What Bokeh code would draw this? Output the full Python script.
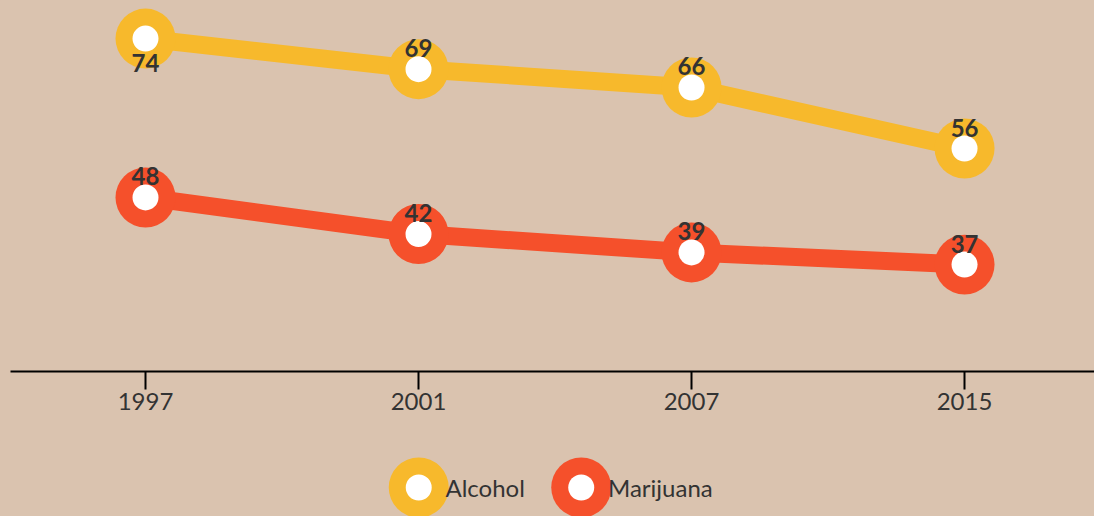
from bokeh.plotting import figure
from bokeh.models import ColumnDataSource, Range1d, FixedTicker, LinearAxis
from bokeh.layouts import column
from bokeh.core.properties import value
from bokeh.embed import file_html
from bokeh.resources import INLINE

years = ["1997", "2001", "2007", "2015"]
alcohol = [74, 69, 66, 56]
marijuana = [48, 42, 39, 37]
series_names = ["Alcohol", "Marijuana"]
series_colors = ["#F7B92C", "#F5502B"]

BG = "#DAC3AF"
TXT = "#333333"
FONT = "Lato"

xs = list(range(len(years)))
top_value = max(alcohol + marijuana)

p = figure(width=1094, height=440, output_backend="svg", toolbar_location=None,
           x_range=Range1d(-0.4945, 3.476), y_range=Range1d(19.5, 80.24),
           min_border_left=10, min_border_right=0, min_border_top=0, min_border_bottom=69,
           background_fill_color=BG, border_fill_color=BG, outline_line_color=None)
p.xgrid.visible = False
p.ygrid.visible = False
p.yaxis.visible = False
p.xaxis.visible = False

ax = LinearAxis(ticker=FixedTicker(ticks=xs),
                major_label_overrides={i: y for i, y in enumerate(years)})
ax.axis_line_color = "black"
ax.axis_line_width = 2
ax.major_tick_line_color = "black"
ax.major_tick_line_width = 2
ax.major_tick_in = 0
ax.major_tick_out = 18
ax.minor_tick_line_color = None
ax.major_label_text_font = FONT
ax.major_label_text_font_size = "24px"
ax.major_label_text_color = TXT
ax.major_label_standoff = 3
p.add_layout(ax, "below")

for vals, name, col in zip([alcohol, marijuana], series_names, series_colors):
    offs = [24 if v == top_value else -21 for v in vals]
    src = ColumnDataSource(dict(x=xs, y=vals, lab=[str(v) for v in vals], off=offs))
    p.line("x", "y", source=src, line_width=18, line_color=col, line_join="round")
    p.scatter("x", "y", source=src, size=60, fill_color=col, line_color=None)
    p.scatter("x", "y", source=src, size=26, fill_color="white", line_color=None)
    p.text("x", "y", text="lab", source=src, y_offset="off",
           text_font=value(FONT), text_font_style="bold", text_font_size="24px",
           text_color=TXT, text_align="center", text_baseline="middle")

# legend strip
lg = figure(width=1094, height=76, output_backend="svg", toolbar_location=None,
            x_range=Range1d(0, 1094), y_range=Range1d(0, 76),
            min_border_left=0, min_border_right=0, min_border_top=0, min_border_bottom=0,
            background_fill_color=BG, border_fill_color=BG, outline_line_color=None)
lg.axis.visible = False
lg.grid.visible = False
lx = [412 + 164 * i for i in range(len(series_names))]
ly = [29] * len(series_names)
lsrc = ColumnDataSource(dict(x=lx, y=ly, c=series_colors, t=series_names,
                             tx=[v + 27 for v in lx]))
lg.scatter("x", "y", source=lsrc, size=60, fill_color="c", line_color=None)
lg.scatter("x", "y", source=lsrc, size=26, fill_color="white", line_color=None)
lg.text("tx", "y", text="t", source=lsrc, text_font=value(FONT), text_font_size="24px",
        text_color=TXT, text_align="left", text_baseline="middle")

layout = column(p, lg, spacing=0, styles={"background-color": BG})
html = file_html(layout, INLINE)
html = html.replace("</head>",
                    "<style>html,body{background-color:%s;}</style></head>" % BG, 1)
open("out.html", "w").write(html)
